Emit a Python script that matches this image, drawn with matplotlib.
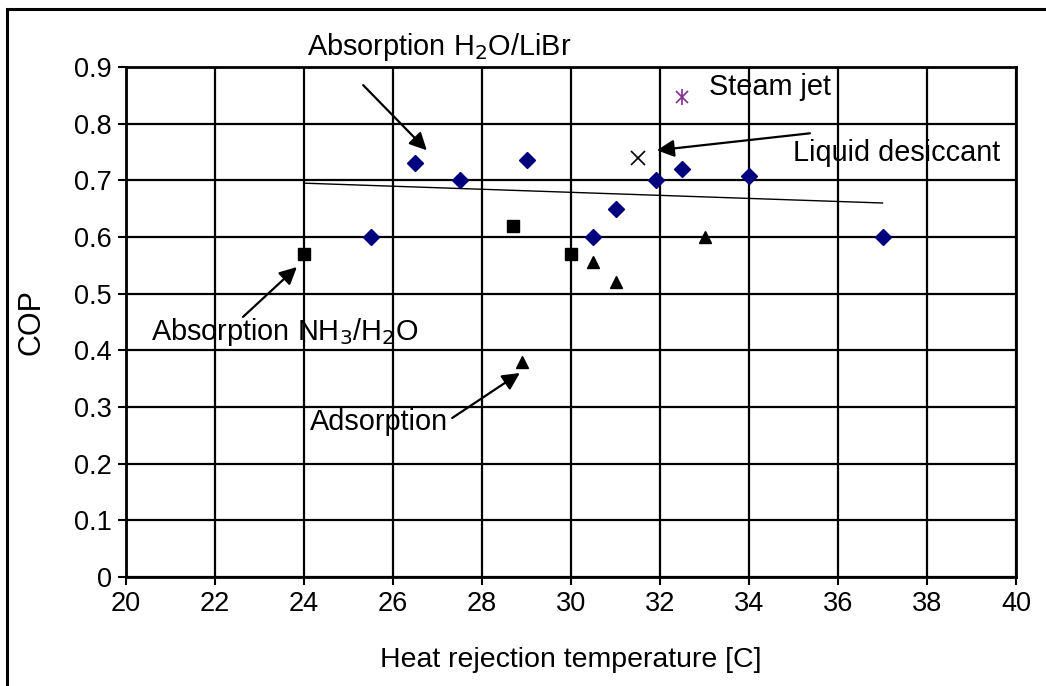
import matplotlib
matplotlib.use("Agg")
import matplotlib.pyplot as plt
from matplotlib.patches import Rectangle

plt.rcParams['font.family'] = ['Liberation Sans', 'DejaVu Sans']

# Data
libr_x = [25.5, 26.5, 27.5, 29.0, 30.5, 31.0, 31.9, 32.5, 34.0, 37.0]
libr_y = [0.60, 0.73, 0.70, 0.735, 0.60, 0.65, 0.70, 0.72, 0.707, 0.60]
nh3_x = [24.0, 28.7, 30.0]
nh3_y = [0.57, 0.62, 0.57]
ads_x = [28.9, 30.5, 31.0, 33.0]
ads_y = [0.38, 0.555, 0.52, 0.60]
liq_x = [31.5]
liq_y = [0.74]
steam_x = [32.5]
steam_y = [0.847]
trend_x = [24.0, 37.0]
trend_y = [0.695, 0.66]

xticks = list(range(20, 41, 2))
yticks = [0, 0.1, 0.2, 0.3, 0.4, 0.5, 0.6, 0.7, 0.8, 0.9]
ytick_labels = ['0', '0.1', '0.2', '0.3', '0.4', '0.5', '0.6', '0.7', '0.8', '0.9']

W, H = 1046, 686
fig = plt.figure(figsize=(W / 100, H / 100), dpi=100)
ax = fig.add_axes([126 / W, 1 - 577 / H, (1016 - 126) / W, (577 - 67) / H])

ax.set_xlim(20, 40)
ax.set_ylim(0, 0.9)
ax.set_xticks(xticks)
ax.set_yticks(yticks)
ax.set_yticklabels(ytick_labels)
ax.grid(True, color='black', linewidth=1.6)
ax.set_axisbelow(True)
for s in ax.spines.values():
    s.set_linewidth(2)
    s.set_color('black')
ax.tick_params(direction='out', length=6, width=1.5, labelsize=19.5, pad=4)

ax.plot(trend_x, trend_y, color='black', linewidth=1.0, zorder=3)
ax.plot(libr_x, libr_y, linestyle='none', marker='D', markersize=8,
        color='#00007F', zorder=4)
ax.plot(nh3_x, nh3_y, linestyle='none', marker='s', markersize=8.5,
        color='black', zorder=4)
ax.plot(ads_x, ads_y, linestyle='none', marker='^', markersize=8,
        color='black', zorder=4)
ax.plot(liq_x, liq_y, linestyle='none', marker='x', markersize=10,
        markeredgewidth=1.2, color='black', zorder=4)
ax.plot(steam_x, steam_y, linestyle='none', marker='x', markersize=9,
        markeredgewidth=1.2, color='#7F2F8F', zorder=4)
ax.plot(steam_x, steam_y, linestyle='none', marker='|', markersize=11,
        markeredgewidth=1.2, color='#7F2F8F', zorder=4)

ax.set_xlabel('Heat rejection temperature [C]', fontsize=20.5, labelpad=22)
ax.set_ylabel('COP', fontsize=22, labelpad=20)

aprops = dict(arrowstyle='-|>', mutation_scale=26, color='black', lw=1.6,
              shrinkA=0, shrinkB=0)
tkw = dict(fontsize=20.8, va='center', ha='left', clip_on=False)

ax.text(24.07, 0.935, 'Absorption H$_2$O/LiBr', **tkw)
ax.annotate('', xy=(26.76, 0.753), xytext=(25.33, 0.868), arrowprops=aprops)

ax.text(33.1, 0.865, 'Steam jet', **tkw)

ax.text(34.99, 0.748, 'Liquid desiccant', **tkw)
ax.annotate('', xy=(31.93, 0.753), xytext=(35.37, 0.783), arrowprops=aprops)

ax.text(20.56, 0.432, 'Absorption NH$_3$/H$_2$O', **tkw)
ax.annotate('', xy=(23.84, 0.547), xytext=(22.63, 0.459), arrowprops=aprops)

ax.text(24.13, 0.2735, 'Adsorption', **tkw)
ax.annotate('', xy=(28.85, 0.36), xytext=(27.33, 0.2806), arrowprops=aprops)

# outer frame (extends past right and bottom edges)
fig.patches.append(Rectangle((7 / W, -0.1), 1.2, 1 - 9 / H + 0.1,
                             transform=fig.transFigure, fill=False,
                             edgecolor='black', linewidth=2.2))

fig.savefig('out.png', dpi=100)
